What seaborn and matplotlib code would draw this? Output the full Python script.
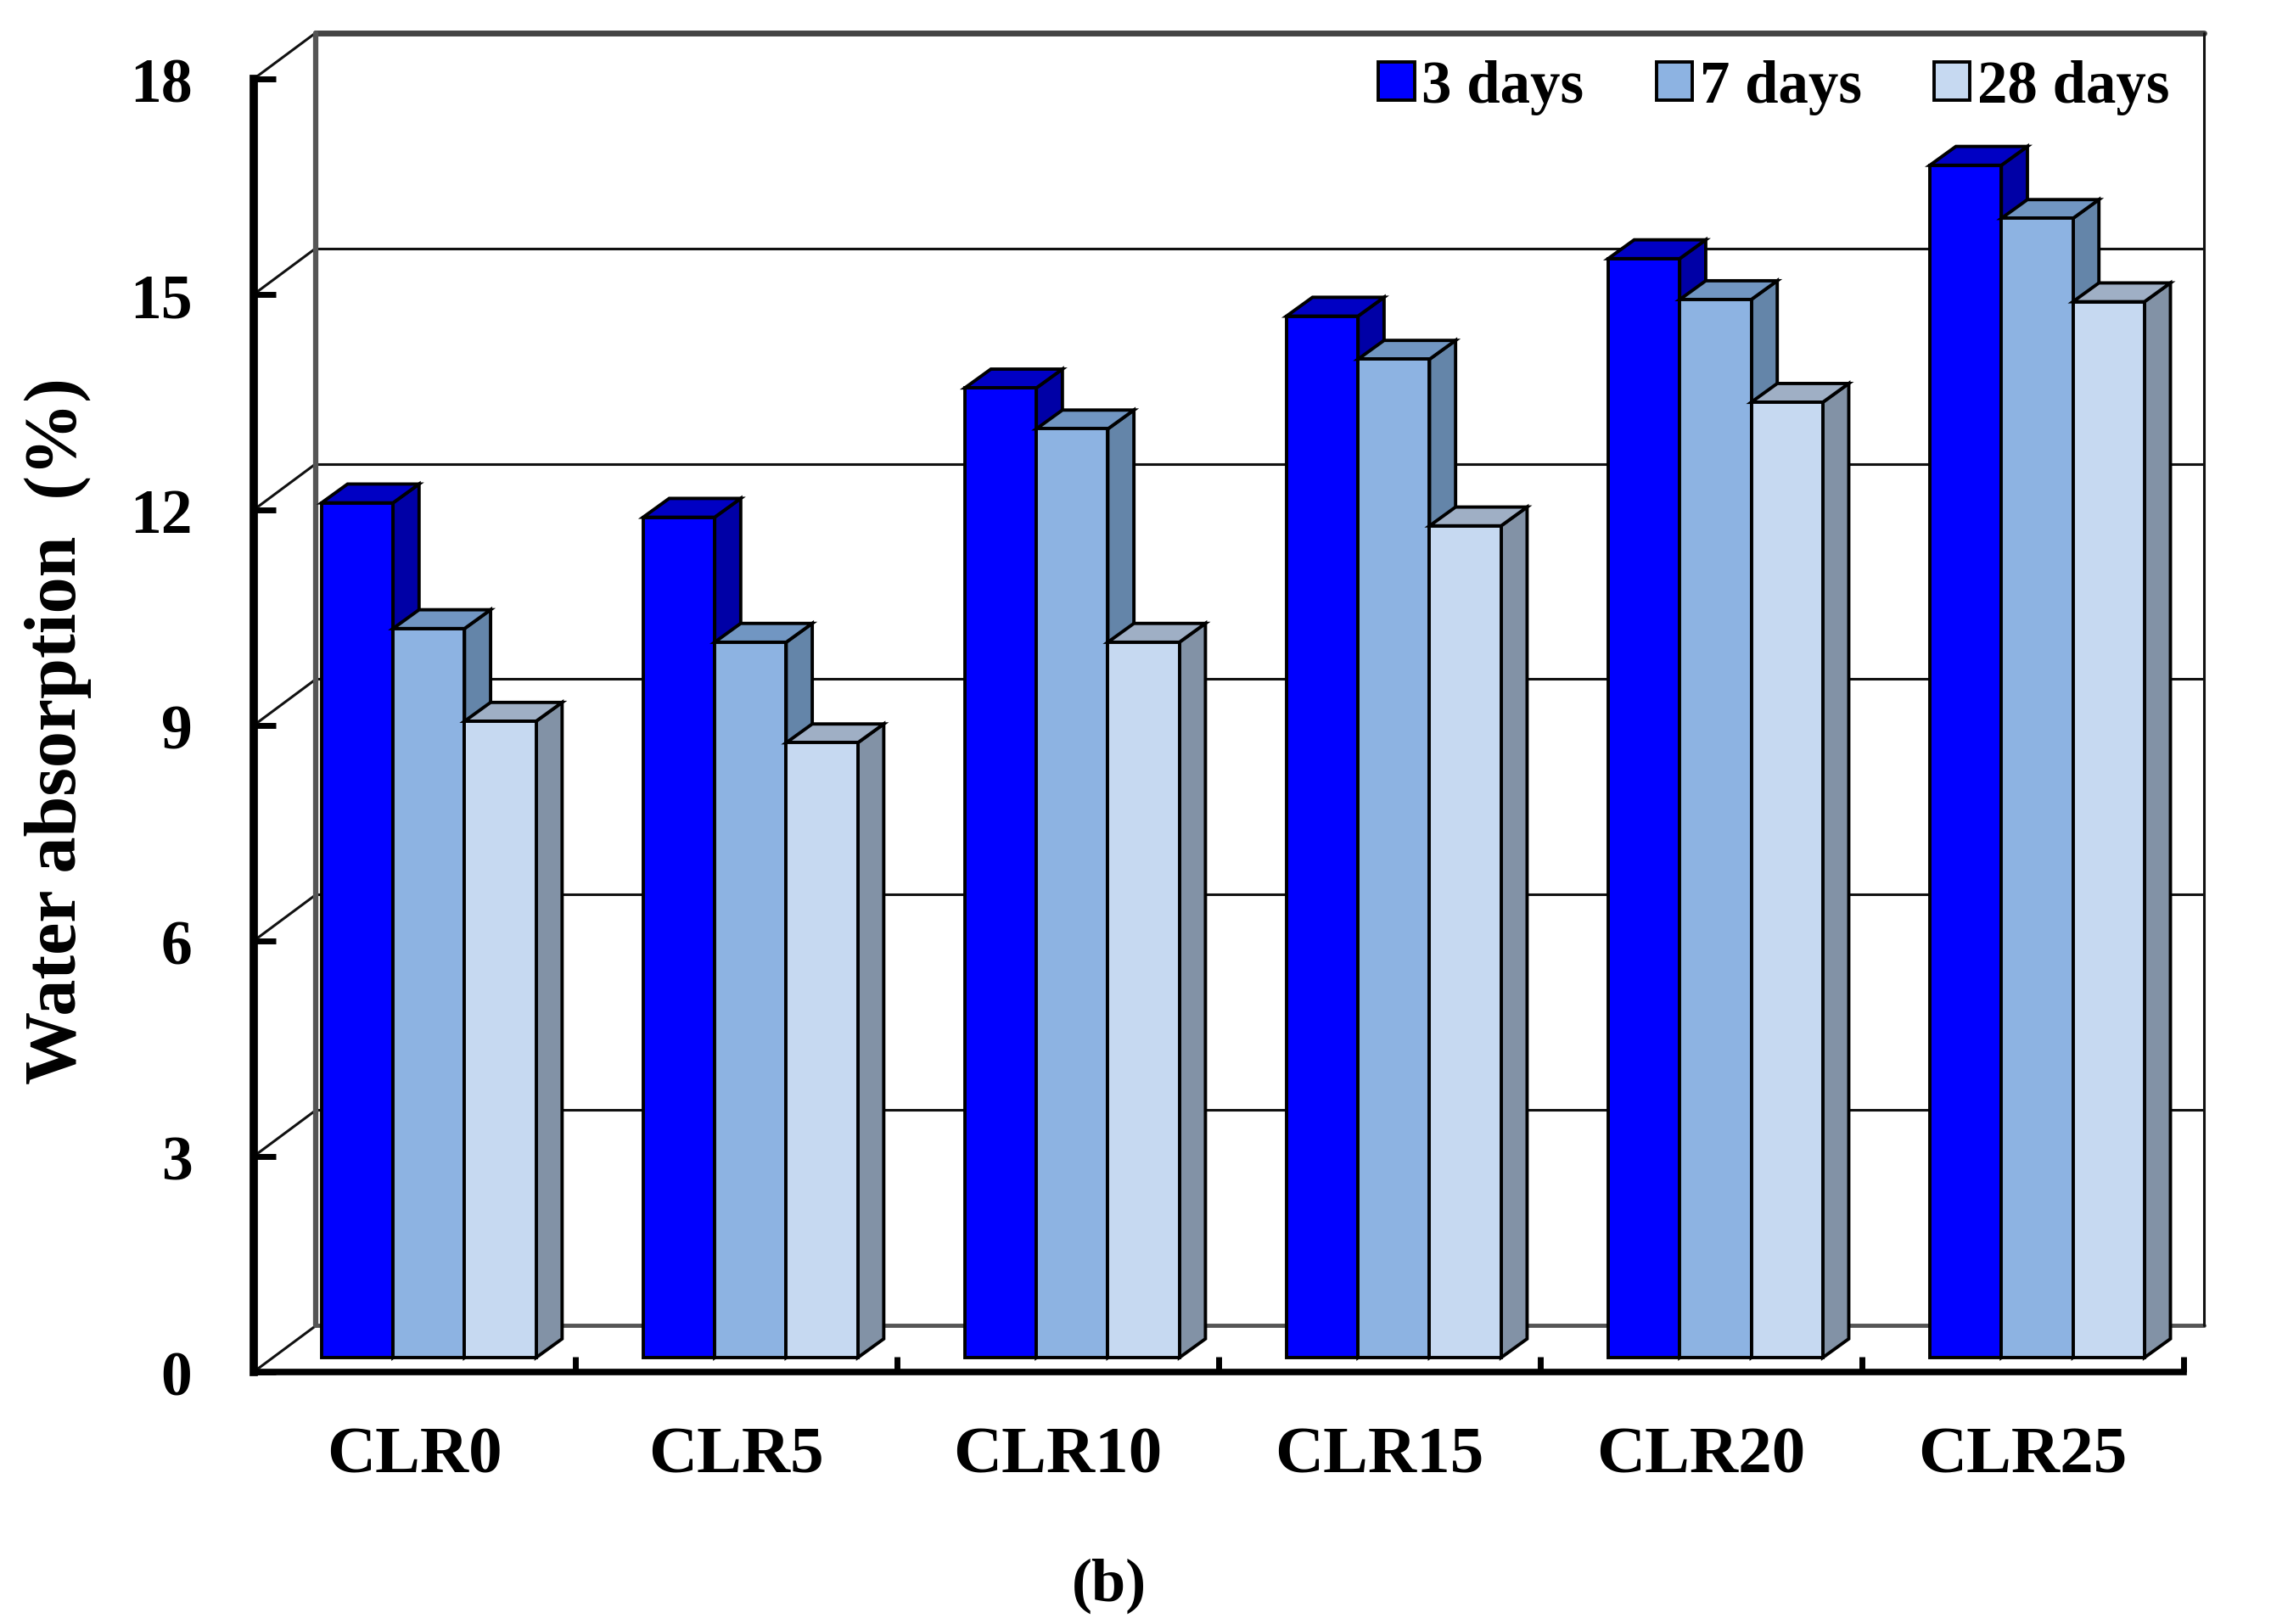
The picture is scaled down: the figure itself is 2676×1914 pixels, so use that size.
import pandas as pd
import seaborn as sns
import matplotlib.pyplot as plt

# values
mixes = ["CLR0", "CLR5", "CLR10", "CLR15", "CLR20", "CLR25"]
ages = ["3 days", "7 days", "28 days"]
days_3 = [11.9, 11.7, 13.5, 14.5, 15.3, 16.6]
days_7 = [10.15, 9.96, 12.93, 13.9, 14.73, 15.86]
days_28 = [8.86, 8.56, 9.96, 11.58, 13.3, 14.7]
y_ticks = [0, 3, 6, 9, 12, 15, 18]

front_colors = ["#0000FF", "#8DB3E2", "#C6D9F1"]
side_colors = ["#0000A6", "#6485A9", "#8292A6"]
top_colors = ["#0000C4", "#7196C2", "#9FAFC5"]

# 3d look, in data units
FRONT = -0.2      # value level of the front axis line
DEPTH_X = 0.194   # front axis to back wall
DEPTH_Y = 0.645
BAR_DX = 0.081    # depth of one bar
BAR_DY = 0.262
GROUP_SHIFT = 0.045  # labels and ticks sit left of the bars

sns.set_style("white")
plt.rcParams["font.family"] = ["Liberation Serif"]
plt.rcParams["font.weight"] = "bold"
plt.rcParams["text.color"] = "black"
plt.rcParams["xtick.labelcolor"] = "black"
plt.rcParams["ytick.labelcolor"] = "black"
plt.rcParams["axes.edgecolor"] = "black"

df = pd.DataFrame({
    "mix": mixes * 3,
    "age": [ages[0]] * 6 + [ages[1]] * 6 + [ages[2]] * 6,
    "value": days_3 + days_7 + days_28,
})

fig = plt.figure(figsize=(26.76, 19.15), dpi=100)
# axes box measured on the 1568 x 1122 view of the reference
ax = fig.add_axes([175 / 1568, 1 - 948 / 1122, 1347 / 1568, (948 - 15.5) / 1122])

sns.barplot(data=df, x="mix", y="value", hue="age", order=mixes, hue_order=ages,
            palette=front_colors, width=0.667, gap=0, saturation=1,
            edgecolor="black", linewidth=2.8, ax=ax)

ax.set_xlim(-0.545, 5.52)
ax.set_ylim(FRONT, 18.6)
x_left, x_right = ax.get_xlim()
x_wall = x_left + DEPTH_X

# back wall and its links to the front axis
wall_color = "#111111"
for t in y_ticks:
    y_back = FRONT + DEPTH_Y + t
    ax.plot([x_wall, x_right], [y_back, y_back], color=wall_color, lw=2.2,
            zorder=1, clip_on=False)
    ax.plot([x_left, x_wall], [FRONT + t, y_back], color=wall_color, lw=2.2,
            zorder=1, clip_on=False)
top_wall = FRONT + DEPTH_Y + y_ticks[-1]
floor = FRONT + DEPTH_Y
ax.plot([x_wall, x_right], [top_wall, top_wall], color="#444444", lw=5, zorder=1, clip_on=False)
ax.plot([x_wall, x_right], [floor, floor], color="#555555", lw=3.5, zorder=1, clip_on=False)
ax.plot([x_wall, x_wall], [floor, top_wall], color="#555555", lw=4.5, zorder=1, clip_on=False)
ax.plot([x_right, x_right], [floor, top_wall], color="#111111", lw=2.2, zorder=1, clip_on=False)

# side and top faces, painted left to right so the next bar covers them
bars = sorted([p for p in ax.patches if p.get_height() > 0], key=lambda p: p.get_x())
for i, bar in enumerate(bars):
    x0 = bar.get_x()
    x1 = x0 + bar.get_width()
    h = bar.get_height()
    color_i = i % 3
    z = 3 + i * 0.1
    ax.fill([x1, x1 + BAR_DX, x1 + BAR_DX, x1],
            [0, BAR_DY, h + BAR_DY, h],
            facecolor=side_colors[color_i], edgecolor="black", lw=2.8, zorder=z)
    ax.fill([x0, x0 + BAR_DX, x1 + BAR_DX, x1],
            [h, h + BAR_DY, h + BAR_DY, h],
            facecolor=top_colors[color_i], edgecolor="black", lw=2.8, zorder=z)
    bar.set_zorder(z + 0.05)

# axes lines
sns.despine(ax=ax)
ax.spines["left"].set_linewidth(7)
ax.spines["bottom"].set_linewidth(5.5)
ax.spines["left"].set_bounds(FRONT, FRONT + y_ticks[-1])
ax.spines["bottom"].set_bounds(x_left, 5 + x_left + 1)
ax.spines["left"].set_zorder(6)
ax.spines["bottom"].set_zorder(6)

ax.set_yticks([FRONT + t for t in y_ticks], [str(t) for t in y_ticks])
ax.tick_params(axis="y", which="major", left=True, direction="in", length=19, width=5,
               labelsize=53, pad=52, color="black")

ax.set_xticks([i - GROUP_SHIFT for i in range(6)], mixes)
ax.set_xticks([i + x_left + 1 for i in range(-1, 6)], minor=True)
ax.tick_params(axis="x", which="major", length=0, labelsize=57, pad=46)
ax.tick_params(axis="x", which="minor", bottom=True, direction="in", length=13, width=5,
               color="black")

ax.set_xlabel("")
ax.set_ylabel("")
fig.text(40 / 1568, 1 - 505 / 1122, "Water absorption  (%)", rotation=90,
         ha="center", va="center", fontsize=62)
fig.text(766 / 1568, 1 - 1095 / 1122, "(b)", ha="center", va="center", fontsize=52)

sns.move_legend(ax, "upper right", bbox_to_anchor=(0.982, 0.972), ncol=3, frameon=False,
                title=None, fontsize=51, handlelength=0.6, handleheight=0.6,
                handletextpad=0.12, columnspacing=1.2, borderaxespad=0, borderpad=0)

fig.savefig("out.png", dpi=100, facecolor="white")
